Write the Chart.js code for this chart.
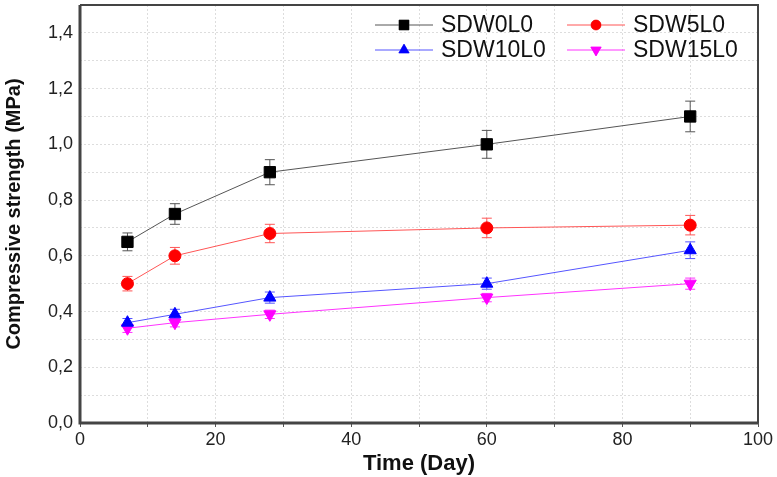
<!DOCTYPE html>
<html>
<head>
<meta charset="utf-8">
<script src="https://cdn.jsdelivr.net/npm/chart.js@4.4.1/dist/chart.umd.min.js"></script>
<style>
  html, body { margin: 0; padding: 0; background: #fff; }
  #wrap { width: 777px; height: 477px; }
</style>
</head>
<body>
<div id="wrap"><canvas id="myChart" width="777" height="477"></canvas></div>
<script>
// data
var days = [7, 14, 28, 60, 90];
var sdw0 = [0.65, 0.75, 0.90, 1.00, 1.10];
var sdw0Err = [0.032, 0.037, 0.045, 0.05, 0.055];
var sdw5 = [0.50, 0.60, 0.68, 0.70, 0.71];
var sdw5Err = [0.026, 0.03, 0.033, 0.035, 0.035];
var sdw10 = [0.36, 0.39, 0.45, 0.50, 0.62];
var sdw10Err = [0.015, 0.018, 0.02, 0.02, 0.03];
var sdw15 = [0.34, 0.36, 0.39, 0.45, 0.50];
var sdw15Err = [0.015, 0.015, 0.015, 0.015, 0.02];
var names = ["SDW0L0", "SDW5L0", "SDW10L0", "SDW15L0"];

function pts(ys) {
    var out = [];
    for (var i = 0; i < days.length; i++) out.push({ x: days[i], y: ys[i] });
    return out;
}

function makeSet(label, ys, errs, line, fill, style, rot, rad) {
    return {
        label: label,
        data: pts(ys),
        errors: errs,
        borderColor: line,
        borderWidth: 1,
        backgroundColor: fill,
        pointBackgroundColor: fill,
        pointBorderColor: fill,
        pointStyle: style,
        pointRotation: rot,
        pointRadius: rad,
        pointHoverRadius: rad,
        errColor: line,
        tension: 0
    };
}

// error bars drawn through the chart's own scales
var errorBars = {
    id: "errorBars",
    beforeDatasetsDraw: function(chart) {
        var ctx = chart.ctx;
        var xs = chart.scales.x, ys = chart.scales.y;
        chart.data.datasets.forEach(function(ds) {
            ctx.save();
            ctx.strokeStyle = ds.errColor;
            ctx.lineWidth = 1;
            ds.data.forEach(function(p, i) {
                var px = xs.getPixelForValue(p.x);
                var top = ys.getPixelForValue(p.y + ds.errors[i]);
                var bot = ys.getPixelForValue(p.y - ds.errors[i]);
                ctx.beginPath();
                ctx.moveTo(px, top); ctx.lineTo(px, bot);
                ctx.moveTo(px - 5, top); ctx.lineTo(px + 5, top);
                ctx.moveTo(px - 5, bot); ctx.lineTo(px + 5, bot);
                ctx.stroke();
            });
            ctx.restore();
        });
    }
};

// frame + legend inside the plot
var frameAndLegend = {
    id: "frameAndLegend",
    afterDraw: function(chart) {
        var ctx = chart.ctx;
        var a = chart.chartArea;
        ctx.save();
        ctx.strokeStyle = "#444";
        ctx.lineWidth = 2;
        ctx.beginPath();
        ctx.moveTo(a.left, a.top); ctx.lineTo(a.right, a.top); ctx.lineTo(a.right, a.bottom);
        ctx.stroke();
        ctx.lineWidth = 3;
        ctx.beginPath();
        ctx.moveTo(a.left, a.top); ctx.lineTo(a.left, a.bottom); ctx.lineTo(a.right, a.bottom);
        ctx.stroke();

        var spots = [[375, 25], [567, 25], [375, 50], [567, 50]];
        chart.data.datasets.forEach(function(ds, i) {
            var sx = spots[i][0], sy = spots[i][1];
            ctx.strokeStyle = ds.borderColor;
            ctx.lineWidth = 1;
            ctx.beginPath();
            ctx.moveTo(sx, sy); ctx.lineTo(sx + 58, sy);
            ctx.stroke();
            Chart.helpers.drawPoint(ctx, {
                pointStyle: ds.pointStyle,
                rotation: ds.pointRotation,
                radius: ds.pointRadius - 1,
                borderWidth: 1
            }, sx + 29, sy);
            ctx.fillStyle = ds.pointBackgroundColor;
            ctx.fill();
            ctx.fillStyle = "#111";
            ctx.font = "23px 'Liberation Sans', Arial, sans-serif";
            ctx.textBaseline = "middle";
            ctx.textAlign = "left";
            ctx.fillText(ds.label, sx + 66, sy + 1);
        });
        ctx.restore();
    }
};

var tickFont = { family: "'Liberation Sans', Arial, sans-serif", size: 18 };

new Chart("myChart", {
    type: "line",
    data: {
        datasets: [
            makeSet(names[0], sdw0, sdw0Err, "#555555", "#000000", "rect", 0, 8),
            makeSet(names[1], sdw5, sdw5Err, "#ff5555", "#ff0000", "circle", 0, 6),
            makeSet(names[2], sdw10, sdw10Err, "#5555ff", "#0000ff", "triangle", 0, 7),
            makeSet(names[3], sdw15, sdw15Err, "#ff33ff", "#ff00ff", "triangle", 180, 7)
        ]
    },
    options: {
        responsive: false,
        animation: false,
        layout: { autoPadding: false, padding: { top: 5, right: 19, left: 0, bottom: 0 } },
        plugins: {
            legend: { display: false },
            tooltip: { enabled: false }
        },
        scales: {
            x: {
                type: "linear",
                min: 0,
                max: 100,
                ticks: {
                    stepSize: 10,
                    autoSkip: false,
                    maxRotation: 0,
                    color: "#222",
                    font: tickFont,
                    padding: 2,
                    callback: function(v) { return v % 20 === 0 ? String(v) : ""; }
                },
                grid: { color: "#dddddd", tickLength: 4, tickColor: "#555", drawTicks: true },
                border: { display: false, dash: [2, 2] },
                title: {
                    display: true,
                    text: "Time (Day)",
                    color: "#111",
                    font: { family: "'Liberation Sans', Arial, sans-serif", size: 22, weight: "bold" },
                    padding: { top: 0, bottom: 0 }
                },
                afterFit: function(scale) { scale.height = 54; }
            },
            y: {
                min: 0,
                max: 1.5,
                ticks: {
                    stepSize: 0.1,
                    autoSkip: false,
                    color: "#222",
                    font: tickFont,
                    padding: 7,
                    callback: function(v) {
                        var r = Math.round(v * 10);
                        return r % 2 === 0 ? (r / 10).toFixed(1).replace(".", ",") : "";
                    }
                },
                grid: { color: "#dddddd", drawTicks: false },
                border: { display: false, dash: [2, 2] },
                title: {
                    display: true,
                    text: "Compressive strength (MPa)",
                    color: "#111",
                    font: { family: "'Liberation Sans', Arial, sans-serif", size: 20, weight: "bold" },
                    padding: { top: 2, bottom: 0 }
                },
                afterFit: function(scale) {
                    scale.width = 80;
                    scale.paddingTop = 0;
                    scale.paddingBottom = 0;
                }
            }
        }
    },
    plugins: [errorBars, frameAndLegend]
});
</script>
</body>
</html>
